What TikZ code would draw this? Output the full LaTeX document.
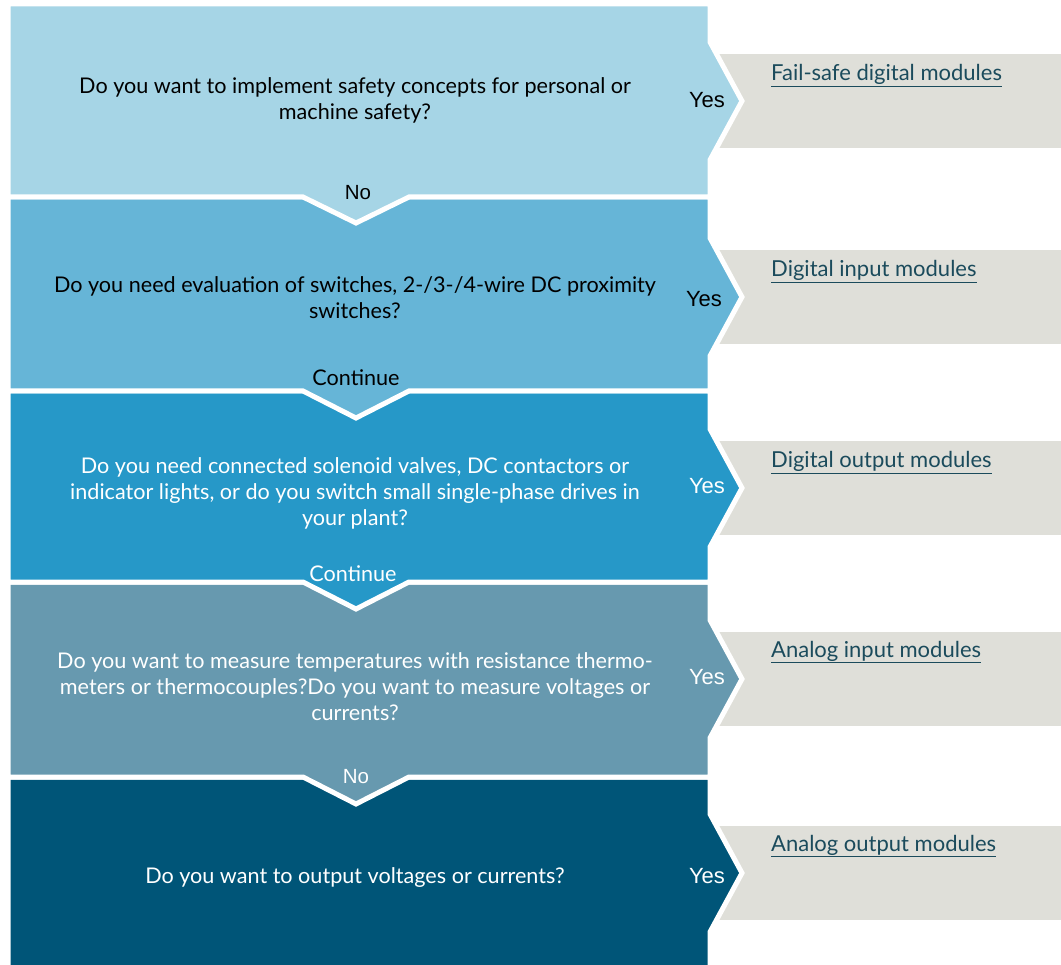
\documentclass[tikz,border=0pt]{standalone}
\usepackage{fontspec}
\setmainfont{Lato}
\newfontfamily\arialfont{Liberation Sans}
\definecolor{cA}{HTML}{A6D5E6}
\definecolor{cB}{HTML}{66B5D7}
\definecolor{cC}{HTML}{2698C8}
\definecolor{cD}{HTML}{6799AF}
\definecolor{cE}{HTML}{005578}
\definecolor{grayb}{HTML}{DFDFD9}
\definecolor{linkc}{HTML}{1B4B5C}
\begin{document}
\begin{tikzpicture}[x=1pt,y=-1pt,
  blockshape/.style={draw=white,line width=5pt,line join=miter},
  graybox/.style={fill=grayb},
  qtext/.style={align=center,font=\fontsize{21.6}{26}\selectfont,inner sep=0pt},
  yeslab/.style={font=\arialfont\fontsize{22}{24}\selectfont,inner sep=0pt},
  notchlab/.style={font=\fontsize{21.6}{24}\selectfont,inner sep=0pt},
  linklab/.style={anchor=base west,text=linkc,font=\fontsize{22}{24}\selectfont,inner sep=0pt}]
\useasboundingbox (0,0) rectangle (1061,965);
% gray answer boxes
\fill[graybox] (712,54) rectangle (1063,148);
\fill[graybox] (712,250) rectangle (1063,344);
\fill[graybox] (712,441) rectangle (1063,535);
\fill[graybox] (712,632) rectangle (1063,726);
\fill[graybox] (712,826) rectangle (1063,920);
% blocks, bottom to top
\path[blockshape,fill=cE] (8,777) -- (710,777) -- (710,814) -- (742,873) -- (710,932) -- (710,970) -- (8,970) -- cycle;
\path[blockshape,fill=cD] (8,582) -- (710,582) -- (710,620) -- (742,679) -- (710,738) -- (710,777) -- (409,777) -- (356,804) -- (303,777) -- (8,777) -- cycle;
\path[blockshape,fill=cC] (8,391) -- (710,391) -- (710,429) -- (742,488) -- (710,547) -- (710,582) -- (409,582) -- (356,609) -- (303,582) -- (8,582) -- cycle;
\path[blockshape,fill=cB] (8,197) -- (710,197) -- (710,238) -- (742,297) -- (710,356) -- (710,391) -- (409,391) -- (356,418) -- (303,391) -- (8,391) -- cycle;
\path[blockshape,fill=cA] (8,4) -- (710,4) -- (710,42) -- (742,101) -- (710,160) -- (710,197) -- (409,197) -- (356,223) -- (303,197) -- (8,197) -- cycle;
% questions
\node[qtext,text=black] (q1) at (355,100) {Do you want to implement safety concepts for personal or\\machine safety?};
\node[qtext,text=black] (q2) at (355,298) {Do you need evaluation of switches, 2-/3-/4-wire DC proximity\\switches?};
\node[qtext,text=white] (q3) at (355,493) {Do you need connected solenoid valves, DC contactors or\\indicator lights, or do you switch small single-phase drives in\\your plant?};
\node[qtext,text=white] (q4) at (355,687) {Do you want to measure temperatures with resistance thermo-\\meters or thermocouples?Do you want to measure voltages or\\currents?};
\node[qtext,text=white] (q5) at (355,878) {Do you want to output voltages or currents?};
% yes labels
\node[yeslab,text=black] (y1) at (707,100) {Yes};
\node[yeslab,text=black] (y2) at (704,299) {Yes};
\node[yeslab,text=white] (y3) at (707,486) {Yes};
\node[yeslab,text=white] (y4) at (707,677) {Yes};
\node[yeslab,text=white] (y5) at (707,876) {Yes};
% notch labels
\node[notchlab,font=\arialfont\fontsize{20.5}{24}\selectfont,text=black] (n1) at (358,193) {No};
\node[notchlab,text=black] (n2) at (356,378) {Continue};
\node[notchlab,text=white] (n3) at (353,574) {Continue};
\node[notchlab,font=\arialfont\fontsize{20.5}{24}\selectfont,text=white] (n4) at (356,777) {No};
% answer links
\node[linklab] (a1) at (771,81) {\underline{Fail-safe digital modules}};
\node[linklab] (a2) at (771,277) {\underline{Digital input modules}};
\node[linklab] (a3) at (771,468) {\underline{Digital output modules}};
\node[linklab] (a4) at (771,657) {\underline{Analog input modules}};
\node[linklab] (a5) at (771,851) {\underline{Analog output modules}};
\end{tikzpicture}
\end{document}
